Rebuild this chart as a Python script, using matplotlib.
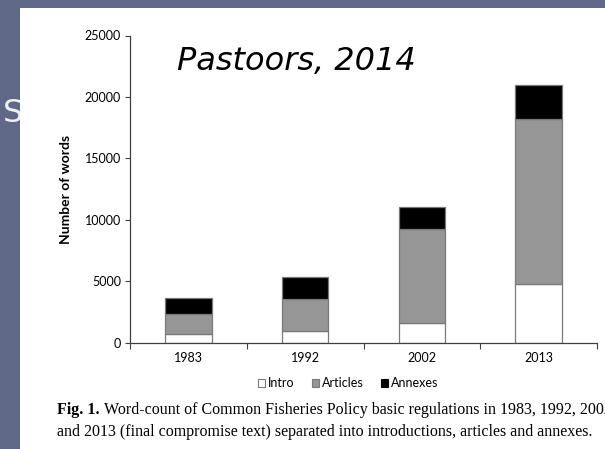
import matplotlib
matplotlib.use('Agg')
import matplotlib.pyplot as plt
from matplotlib.patches import Rectangle, Patch
import numpy as np

# data
years = ['1983', '1992', '2002', '2013']
intro = [700, 950, 1600, 4800]
articles = [1600, 2600, 7650, 13400]
annexes = [1350, 1750, 1750, 2750]
y_ticks = [0, 5000, 10000, 15000, 20000, 25000]

W, H = 605, 449
slate = '#5f6887'
tick_font = 'Lato'

fig = plt.figure(figsize=(W / 100, H / 100), dpi=100)
fig.patch.set_facecolor(slate)

# slide title letter peeking out behind the white panel
fig.text(3 / W, 1 - 114 / H, 'S', fontsize=23, color='#eef0f5',
         family='DejaVu Sans', va='center', ha='left', zorder=0.5)
fig.patches.append(Rectangle((20 / W, 0), 1, 1 - 8 / H, transform=fig.transFigure,
                             facecolor='white', edgecolor='none', zorder=1))

ax = fig.add_axes([130 / W, 1 - 342.5 / H, (597 - 130) / W, (342.5 - 35.5) / H])
ax.set_zorder(2)
ax.patch.set_alpha(0)

x = np.arange(len(years))
bottom2 = np.array(intro)
bottom3 = bottom2 + np.array(articles)
edge = '#7a7a7a'
ax.bar(x, intro, 0.4, color='white', edgecolor=edge, linewidth=0.9)
ax.bar(x, articles, 0.4, bottom=bottom2, color='#969696', edgecolor=edge, linewidth=0.9)
ax.bar(x, annexes, 0.4, bottom=bottom3, color='black', edgecolor=edge, linewidth=0.9)

ax.set_xlim(-0.5, 3.5)
ax.set_ylim(0, 25000)
for s in ['top', 'right']:
    ax.spines[s].set_visible(False)
for s in ['left', 'bottom']:
    ax.spines[s].set_color('#404040')
    ax.spines[s].set_linewidth(0.9)

ax.set_yticks(y_ticks)
ax.set_yticklabels([str(v) for v in y_ticks], family=tick_font, fontsize=9)
ax.tick_params(axis='y', length=3.5, width=0.8, color='#404040', pad=3)

ax.set_xticks(np.arange(-0.5, 4, 1))
ax.set_xticklabels([''] * 5)
ax.tick_params(axis='x', which='major', length=4.5, width=0.8, color='#404040')
ax.set_xticks(x, minor=True)
ax.set_xticklabels(years, minor=True, family=tick_font, fontsize=9)
ax.tick_params(axis='x', which='minor', length=0, pad=7)

ax.set_ylabel('Number of words', family=tick_font, fontsize=10, fontweight='bold', labelpad=9)

ax.text(0.1, 0.915, 'Pastoors, 2014', transform=ax.transAxes, fontsize=23,
        style='italic', family='DejaVu Sans', va='center', ha='left')

handles = [Patch(facecolor='white', edgecolor=edge, linewidth=0.8),
           Patch(facecolor='#969696', edgecolor=edge, linewidth=0.8),
           Patch(facecolor='black', edgecolor='black', linewidth=0.8)]
fig.legend(handles, ['Intro', 'Articles', 'Annexes'], loc='center',
           bbox_to_anchor=(348 / W, 1 - 383 / H), ncol=3, frameon=False,
           prop={'family': tick_font, 'size': 9}, handlelength=0.6, handleheight=0.6,
           handletextpad=0.2, columnspacing=1.4)

# caption
cap_size = 11.5
t1 = fig.text(57 / W, 1 - 410 / H, 'Fig. 1.', fontsize=cap_size, family='Liberation Serif',
              fontweight='bold', va='center', ha='left', zorder=3)
fig.canvas.draw()
bb = t1.get_window_extent()
fig.text((bb.x1 + 4) / W, 1 - 410 / H,
         'Word-count of Common Fisheries Policy basic regulations in 1983, 1992, 2002',
         fontsize=cap_size, family='Liberation Serif', va='center', ha='left', zorder=3)
fig.text(57 / W, 1 - 432 / H,
         'and 2013 (final compromise text) separated into introductions, articles and annexes.',
         fontsize=cap_size, family='Liberation Serif', va='center', ha='left', zorder=3)

fig.savefig('out.png', dpi=100, facecolor=slate)
